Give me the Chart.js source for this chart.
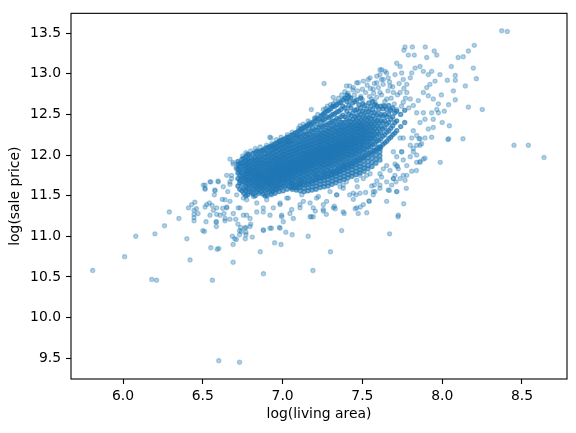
<!DOCTYPE html>
<html>
<head>
<meta charset="utf-8">
<script src="https://cdn.jsdelivr.net/npm/chart.js@4.4.1/dist/chart.umd.min.js"></script>
<style>
  html, body { margin: 0; padding: 0; background: #fff; }
  #wrap { width: 576px; height: 433px; }
</style>
</head>
<body>
<div id="wrap"><canvas id="chart" width="576" height="433"></canvas></div>
<script>
// axis ticks
const xTicks = [6.0, 6.5, 7.0, 7.5, 8.0, 8.5];
const yTicks = [9.5, 10.0, 10.5, 11.0, 11.5, 12.0, 12.5, 13.0, 13.5];

// [log(living area), log(sale price)]
const farPoints = [
  [5.81,10.58],[6.01,10.75],[6.08,11.0],[6.2,11.03],[6.18,10.47],[6.21,10.46],[6.26,11.13],[6.29,11.3],
  [6.35,11.22],[6.4,10.97],[6.42,10.71],[6.56,10.46],[6.6,9.47],[6.73,9.45],[6.55,10.86],[6.6,10.85],
  [6.59,10.84],[6.69,10.68],[6.88,10.54],[6.86,10.81],[7.19,10.58],[7.3,10.81],[7.16,11.0],[7.37,11.07],
  [7.67,11.03]
];

const lowerPoints = [
  [6.5,11.07],[6.51,11.06],[6.52,11.18],[6.585,11.18],[6.585,11.12],[6.685,11.0],[6.69,10.9],[6.71,10.96],
  [6.7,10.97],[6.81,10.99],[6.95,10.92],[6.99,10.9],[6.88,11.07],[7.02,11.05],[7.06,11.02],[6.98,11.11],
  [6.93,11.1],[6.77,11.11],[6.77,11.05],[6.77,11.02],[6.73,11.07],[6.73,11.02],
  [6.41,11.35],[6.43,11.39],[6.45,11.42],[6.445,11.32],[6.445,11.27],[6.445,11.23],[6.445,11.19],[6.46,11.34],
  [6.47,11.28],[6.514,11.63],[6.514,11.58],[6.55,11.67],[6.595,11.68],[6.576,11.56],[6.572,11.51],[6.514,11.36],
  [6.541,11.41],[6.558,11.38],[6.566,11.32],[6.587,11.27],[6.583,11.175],[6.639,11.19],[6.633,11.28],[6.625,11.345],
  [6.65,11.36],[6.622,11.455],[6.639,11.45],[6.656,11.55],[6.67,11.64],[6.67,11.21],[6.706,11.21],[6.72,11.15],
  [6.737,11.11],[6.741,11.06],[6.766,10.97],[6.8,11.15],
  [6.503,11.63],[6.514,11.59],[6.545,11.67],[6.576,11.57],[6.597,11.67],[6.628,11.61],[6.65,11.35],[6.67,11.43],
  [6.691,11.28],[6.733,11.35],[6.754,11.26],[6.775,11.45],[6.796,11.22],[6.838,11.3],[6.879,11.35],[6.921,11.26],
  [6.984,11.39],[6.994,11.24],[7.026,11.47],[7.046,11.28],[7.109,11.35],[7.13,11.43],[7.172,11.24],[7.192,11.35],
  [7.213,11.47],[7.255,11.39],[7.318,11.35],[7.339,11.51],[7.38,11.59],[7.443,11.53],[7.464,11.35],[7.506,11.39],
  [7.568,11.51],[7.61,11.59],[7.694,11.71],[7.715,11.55],[7.725,11.26],[7.652,11.43],[6.524,11.39],[6.545,11.26],
  [6.587,11.35],[6.608,11.26],[6.639,11.22],
  [6.712,11.51],[6.754,11.47],[6.722,11.35],[6.775,11.26],[6.817,11.49],[6.838,11.41],[6.879,11.3],[6.9,11.45],
  [6.932,11.51],[6.942,11.35],[6.984,11.41],[6.994,11.26],[7.004,11.18],[7.036,11.47],[7.057,11.33],[7.067,11.22],
  [7.109,11.39],[7.12,11.51],[7.172,11.41],[7.192,11.24],[7.224,11.49],[7.255,11.33],[7.276,11.43],[7.297,11.55],
  [7.339,11.51],[6.764,11.1],[6.796,11.12],[6.879,11.08],[6.921,11.1],[6.984,11.1],
  [7.759,11.4],[7.723,11.24],[7.527,11.29],[7.474,11.28],[7.487,11.36],[7.455,11.34],[7.38,11.3],[7.386,11.28],
  [7.324,11.37],[7.33,11.34],[7.274,11.27],[7.255,11.31],[7.205,11.31],[7.18,11.24],[7.543,11.43],[7.715,11.55],
  [7.669,11.565],[7.541,11.435],[7.443,11.455],[7.42,11.51],[7.568,11.55],[7.575,11.63],[7.558,11.62],[7.59,11.68],
  [7.468,11.61],[7.46,11.51],[7.485,11.53],[7.52,11.54],[7.506,11.71],[7.527,11.75],[7.548,11.77],[7.485,11.75],
  [7.464,11.69],[7.4,11.67],[7.38,11.63],[7.36,11.61],[7.631,11.83],[7.652,11.87],[7.61,11.77],[7.62,11.73],
  [6.67,11.95],[6.69,11.89],[6.71,11.83],[6.68,11.75],[6.67,11.67],[6.69,11.91],[6.71,11.85],[6.73,11.79],
  [6.65,11.75],[6.68,11.71]
];

const upperPoints = [
  [7.694,11.71],[7.736,11.71],[7.767,11.69],[7.778,11.87],[7.809,11.8],[7.84,11.91],[7.861,11.92],[7.892,11.96],
  [7.819,12.04],[7.84,12.0],[7.8,12.12],[7.861,12.12],[7.855,12.2],[7.809,12.21],[7.756,12.21],[7.736,12.21],
  [7.694,12.04],[7.704,11.89],[7.719,11.86],[7.746,12.04],[7.715,11.98],
  [7.819,12.3],[7.84,12.24],[7.861,12.2],[7.892,12.21],[7.871,12.14],[7.84,12.12],[7.819,12.08],[7.882,11.95],
  [7.861,11.91],[7.8,11.98],[7.746,12.04],[7.756,11.94],[7.715,11.87],[7.725,11.83],[7.673,11.81],[7.704,11.75],
  [7.756,11.75],[7.652,11.67],[7.71,11.67],[7.683,11.63],[7.61,11.63],[7.579,11.55],[7.662,11.57],[7.778,11.75],
  [7.861,13.09],[7.882,13.03],[7.913,12.99],[7.934,13.03],[7.955,12.91],[7.923,12.87],[7.903,12.83],[7.882,12.77],
  [7.913,12.73],[7.944,12.69],[7.976,12.63],[7.966,12.56],[7.934,12.52],[7.944,12.44],[7.882,12.52],[7.892,12.44],
  [7.861,12.4],[7.84,12.52],[7.819,12.61],[7.85,12.67],[7.986,12.99],
  [7.61,13.05],[7.642,13.03],[7.631,12.93],[7.59,12.89],[7.662,12.95],[7.704,12.99],[7.715,13.13],[7.736,13.09],
  [7.746,13.01],[7.756,12.93],[7.778,12.87],[7.8,12.95],[7.809,13.01],[7.83,13.07],[7.673,12.85],[7.694,12.77],
  [7.61,12.77],[7.568,12.81],[7.652,12.69],[7.736,12.77],[7.778,12.77],[7.8,12.69],[7.756,12.65],[7.715,12.56],
  [7.673,12.56],[7.631,12.61],[7.59,12.61],[7.558,12.69],
  [7.26,12.88],[7.18,12.56],[7.317,12.71],[7.4,12.85],[7.443,12.83],[7.474,12.89],[7.537,12.93],[7.61,12.99],
  [7.42,12.67],[6.927,12.21],[7.109,12.36],
  [6.932,12.14],[6.963,12.1],[7.026,12.14],[7.046,12.16],[7.12,12.32],[7.151,12.36],[7.172,12.4],[7.203,12.46],
  [7.255,12.56],[7.308,12.59],[7.318,12.63],[7.4,12.69],[7.42,12.85],[7.464,12.89],[7.506,12.91],[7.548,12.95],
  [7.59,12.97],[7.621,13.05],[7.652,13.01],
  [6.92,12.22],[6.9,12.12],[6.94,12.1],[6.98,12.16],[6.88,12.06],[7.09,12.24],[7.04,12.18],
  [7.913,12.32],[7.944,12.34],[7.976,12.52],[7.934,12.22],[7.988,11.91],[7.838,11.81],[7.775,11.59],
  [7.45,12.74],[7.47,12.79],[7.49,12.72],[7.5,12.81],[7.52,12.77],[7.53,12.86],[7.545,12.72],[7.55,12.82],
  [7.57,12.76],[7.575,12.88],[7.59,12.71],[7.6,12.83],[7.62,12.74],[7.63,12.87],[7.64,12.66],[7.66,12.79],
  [7.67,12.9],[7.68,12.7],[7.69,12.84],[7.7,12.63],[7.72,12.74],[7.73,12.88],[7.745,12.6],[7.76,12.82],
  [7.77,12.7],[7.79,12.58],[7.5,12.68],[7.58,12.65],[7.62,12.93],
  [7.1,12.33],[7.13,12.38],[7.16,12.42],[7.2,12.45],[7.22,12.5],[7.25,12.49],[7.27,12.57],[7.3,12.62],
  [7.33,12.66],[7.35,12.7],[7.37,12.74],[7.39,12.78],[7.41,12.76],[7.44,12.8],[7.28,12.6],[7.06,12.28],
  [7.03,12.25],[6.99,12.22],[6.96,12.19],[6.86,12.1],[6.83,12.08],[6.8,12.05],[6.77,12.03],[6.75,11.99]
];

const highEnd = [
  [8.373,13.53],[8.408,13.52],[8.201,13.35],[8.164,13.28],[8.132,13.21],[8.1,13.2],[8.057,13.09],[8.195,13.07],
  [8.214,12.94],[8.082,12.98],[8.082,12.92],[8.032,12.92],[8.145,12.85],[8.07,12.79],[7.995,12.74],[8.082,12.68],
  [8.04,12.62],[8.164,12.59],[8.251,12.56],[8.013,12.54],[8.0,12.4],[8.045,12.36],[8.04,12.2],[8.036,12.19],
  [8.13,12.2],[8.45,12.12],[8.54,12.12],[8.638,11.97],[7.767,13.33],[7.813,13.33],[7.894,13.33],[7.95,13.28],
  [7.966,13.23],[7.788,13.23],[7.825,13.23],[7.903,13.2],[7.76,13.29]
];

// dense middle of the cloud: [log(living area), [log(sale price) ...]]
const coreColumns = [
  [6.72, [11.62,11.71,11.78,11.83,11.88,11.92]],
  [6.745, [11.56,11.64,11.70,11.74,11.79,11.85,11.9,11.95]],
  [6.77, [11.5,11.56,11.61,11.66,11.7,11.73,11.77,11.8,11.84,11.88,11.93,11.98]],
  [6.79, [11.55,11.62,11.68,11.71,11.76,11.8,11.83,11.87,11.93,12.0]],
  [6.815, [11.52,11.58,11.63,11.67,11.71,11.74,11.78,11.81,11.85,11.9,11.95,12.02]],
  [6.84, [11.55,11.6,11.64,11.68,11.72,11.75,11.78,11.82,11.86,11.9,11.94,11.99,12.05]],
  [6.865, [11.55,11.6,11.63,11.67,11.7,11.73,11.76,11.79,11.83,11.87,11.91,11.95,12.0,12.05]],
  [6.89, [11.5,11.56,11.61,11.65,11.68,11.71,11.74,11.77,11.8,11.84,11.88,11.92,11.97,12.02,12.08]],
  [6.915, [11.55,11.6,11.64,11.67,11.7,11.73,11.76,11.79,11.82,11.86,11.9,11.94,11.99,12.04,12.1]],
  [6.94, [11.55,11.59,11.63,11.67,11.7,11.73,11.76,11.79,11.82,11.85,11.89,11.93,11.97,12.02,12.07,12.12]],
  [6.965, [11.58,11.62,11.66,11.7,11.73,11.76,11.79,11.82,11.85,11.88,11.92,11.96,12.0,12.05,12.1,12.15]],
  [6.99, [11.6,11.65,11.69,11.72,11.75,11.78,11.81,11.84,11.87,11.9,11.94,11.98,12.03,12.08,12.13,12.18]],
  [7.015, [11.62,11.67,11.71,11.74,11.77,11.8,11.83,11.86,11.89,11.93,11.97,12.01,12.05,12.1,12.15,12.2]],
  [7.04, [11.62,11.68,11.72,11.76,11.79,11.82,11.85,11.88,11.91,11.95,11.99,12.03,12.07,12.12,12.17,12.22]],
  [7.065, [11.65,11.7,11.74,11.78,11.81,11.84,11.87,11.9,11.93,11.97,12.01,12.05,12.09,12.14,12.19,12.25]],
  [7.09, [11.65,11.71,11.76,11.8,11.83,11.86,11.89,11.92,11.95,11.99,12.03,12.07,12.11,12.16,12.22,12.28]],
  [7.115, [11.68,11.73,11.78,11.82,11.85,11.88,11.91,11.94,11.97,12.0,12.04,12.08,12.12,12.17,12.22,12.27,12.32]],
  [7.14, [11.7,11.75,11.8,11.84,11.87,11.9,11.93,11.96,11.99,12.02,12.06,12.1,12.14,12.19,12.24,12.3,12.35]],
  [7.165, [11.72,11.77,11.82,11.86,11.89,11.92,11.95,11.98,12.01,12.04,12.08,12.12,12.16,12.21,12.26,12.32,12.38]],
  [7.19, [11.72,11.78,11.83,11.87,11.9,11.93,11.96,11.99,12.02,12.05,12.09,12.13,12.18,12.23,12.28,12.34,12.4]],
  [7.215, [11.75,11.8,11.85,11.89,11.92,11.95,11.98,12.01,12.04,12.07,12.11,12.15,12.2,12.25,12.31,12.38,12.45]],
  [7.24, [11.75,11.81,11.86,11.9,11.93,11.96,11.99,12.02,12.05,12.08,12.12,12.16,12.2,12.24,12.29,12.35,12.41,12.48]],
  [7.265, [11.78,11.84,11.88,11.92,11.95,11.98,12.01,12.04,12.07,12.1,12.14,12.18,12.22,12.26,12.31,12.37,12.44,12.52]],
  [7.29, [11.8,11.86,11.9,11.94,11.97,12.0,12.03,12.06,12.09,12.12,12.16,12.2,12.24,12.28,12.33,12.39,12.46,12.55]],
  [7.315, [11.8,11.87,11.92,11.96,11.99,12.02,12.05,12.08,12.11,12.15,12.19,12.23,12.27,12.31,12.36,12.42,12.5,12.6]],
  [7.34, [11.82,11.88,11.93,11.97,12.01,12.04,12.07,12.1,12.13,12.17,12.21,12.25,12.29,12.33,12.38,12.45,12.53,12.62]],
  [7.365, [11.85,11.91,11.96,12.0,12.03,12.06,12.09,12.12,12.15,12.19,12.23,12.27,12.31,12.35,12.4,12.47,12.56,12.65]],
  [7.39, [11.88,11.94,11.99,12.03,12.06,12.09,12.12,12.15,12.19,12.23,12.27,12.31,12.35,12.4,12.47,12.58,12.7]],
  [7.415, [11.9,11.96,12.01,12.05,12.08,12.11,12.14,12.17,12.21,12.25,12.29,12.33,12.37,12.42,12.5,12.61,12.72]],
  [7.44, [11.92,11.99,12.04,12.08,12.12,12.15,12.18,12.22,12.26,12.3,12.34,12.38,12.44,12.52,12.64]],
  [7.465, [11.95,12.02,12.07,12.11,12.15,12.18,12.21,12.25,12.29,12.33,12.37,12.42,12.48,12.56,12.68]],
  [7.49, [11.98,12.05,12.1,12.14,12.18,12.22,12.26,12.3,12.34,12.38,12.43,12.5,12.58,12.7]],
  [7.515, [12.0,12.07,12.13,12.18,12.22,12.26,12.3,12.34,12.39,12.45,12.52,12.61]],
  [7.54, [12.02,12.1,12.16,12.21,12.26,12.3,12.35,12.4,12.46,12.54,12.64]],
  [7.565, [12.05,12.13,12.2,12.25,12.3,12.35,12.41,12.48,12.56,12.66]],
  [7.59, [12.08,12.17,12.24,12.3,12.36,12.42,12.5,12.6]],
  [7.615, [12.1,12.2,12.28,12.35,12.42,12.5,12.6]],
  [7.64, [12.15,12.25,12.34,12.42,12.5,12.6]],
  [7.665, [12.2,12.3,12.4,12.5,12.61]],
  [7.69, [12.25,12.36,12.47,12.58]],
  [7.715, [12.3,12.42,12.54]],
  [7.74, [12.35,12.5]],
  [7.765, [12.4,12.55]]
];

// second pass over the dense middle, between the columns above
const coreColumnsB = [
  [6.732, [11.58,11.66,11.69,11.75,11.81,11.86,11.9]],
  [6.757, [11.53,11.59,11.67,11.72,11.76,11.82,11.87,11.91,11.96]],
  [6.781, [11.51,11.58,11.64,11.69,11.74,11.78,11.82,11.86,11.9,11.95,12.01]],
  [6.803, [11.54,11.6,11.65,11.69,11.73,11.77,11.8,11.84,11.88,11.92,11.97]],
  [6.828, [11.5,11.57,11.62,11.66,11.7,11.73,11.77,11.8,11.84,11.88,11.93,11.97,12.03]],
  [6.852, [11.53,11.58,11.62,11.66,11.69,11.72,11.75,11.78,11.81,11.85,11.89,11.93,11.98,12.04]],
  [6.877, [11.52,11.58,11.62,11.66,11.69,11.72,11.75,11.78,11.82,11.86,11.9,11.94,11.99,12.06]],
  [6.903, [11.5,11.57,11.62,11.66,11.69,11.72,11.75,11.78,11.81,11.85,11.89,11.93,11.98,12.03,12.09]],
  [6.928, [11.52,11.57,11.62,11.65,11.68,11.71,11.74,11.78,11.81,11.84,11.88,11.92,11.96,12.01,12.06,12.11]],
  [6.953, [11.53,11.58,11.62,11.65,11.69,11.72,11.75,11.78,11.81,11.84,11.87,11.91,11.95,11.99,12.04,12.09,12.14]],
  [6.978, [11.55,11.6,11.64,11.68,11.71,11.74,11.77,11.8,11.83,11.86,11.9,11.93,11.97,12.02,12.07,12.12,12.17]],
  [7.003, [11.56,11.62,11.66,11.7,11.73,11.76,11.79,11.82,11.85,11.88,11.92,11.96,12.0,12.04,12.09,12.14,12.19]],
  [7.028, [11.58,11.64,11.68,11.72,11.75,11.78,11.81,11.84,11.87,11.91,11.94,11.98,12.02,12.07,12.12,12.17,12.22]],
  [7.053, [11.6,11.66,11.7,11.74,11.77,11.8,11.83,11.86,11.89,11.92,11.96,12.0,12.04,12.08,12.13,12.18,12.24]],
  [7.078, [11.6,11.67,11.72,11.76,11.79,11.82,11.85,11.88,11.91,11.94,11.98,12.02,12.06,12.1,12.15,12.21,12.27]],
  [7.103, [11.62,11.69,11.74,11.78,11.81,11.84,11.87,11.9,11.93,11.96,12.0,12.04,12.08,12.12,12.17,12.23,12.3]],
  [7.128, [11.64,11.71,11.76,11.8,11.83,11.86,11.89,11.92,11.95,11.98,12.02,12.06,12.1,12.14,12.19,12.25,12.33]],
  [7.153, [11.66,11.73,11.78,11.82,11.85,11.88,11.91,11.94,11.97,12.0,12.03,12.07,12.11,12.15,12.2,12.26,12.36]],
  [7.178, [11.67,11.74,11.79,11.84,11.87,11.9,11.93,11.96,11.99,12.02,12.05,12.09,12.13,12.17,12.22,12.29,12.38]],
  [7.203, [11.69,11.76,11.81,11.85,11.89,11.92,11.95,11.98,12.01,12.04,12.07,12.11,12.15,12.19,12.24,12.31,12.42]],
  [7.228, [11.71,11.77,11.82,11.87,11.91,11.94,11.97,12.0,12.03,12.06,12.09,12.13,12.17,12.22,12.27,12.34,12.44]],
  [7.253, [11.72,11.79,11.84,11.88,11.92,11.95,11.98,12.01,12.04,12.07,12.1,12.14,12.18,12.23,12.28,12.35,12.43,12.5]],
  [7.278, [11.74,11.81,11.86,11.9,11.94,11.97,12.0,12.03,12.06,12.09,12.13,12.17,12.21,12.25,12.3,12.37,12.47,12.54]],
  [7.303, [11.75,11.82,11.88,11.92,11.96,11.99,12.02,12.05,12.08,12.11,12.14,12.18,12.22,12.27,12.33,12.4,12.48,12.57]],
  [7.328, [11.77,11.84,11.9,11.94,11.98,12.01,12.04,12.07,12.1,12.13,12.16,12.2,12.24,12.29,12.35,12.42,12.51,12.6]],
  [7.353, [11.79,11.86,11.92,11.96,12.0,12.03,12.06,12.09,12.12,12.15,12.18,12.22,12.26,12.31,12.37,12.44,12.54,12.64]],
  [7.378, [11.82,11.88,11.94,11.98,12.02,12.05,12.08,12.11,12.14,12.17,12.21,12.25,12.29,12.34,12.4,12.49,12.6,12.68]],
  [7.403, [11.84,11.91,11.97,12.01,12.05,12.08,12.11,12.14,12.17,12.2,12.24,12.28,12.32,12.37,12.44,12.54,12.66,12.74]],
  [7.428, [11.87,11.94,12.0,12.04,12.08,12.11,12.14,12.17,12.2,12.23,12.27,12.31,12.36,12.41,12.48,12.58,12.7]],
  [7.453, [11.9,11.97,12.02,12.06,12.1,12.14,12.17,12.2,12.24,12.28,12.32,12.36,12.41,12.47,12.55,12.66]],
  [7.478, [11.93,12.0,12.05,12.09,12.13,12.17,12.2,12.24,12.28,12.32,12.36,12.4,12.46,12.53,12.62]],
  [7.503, [11.96,12.03,12.08,12.12,12.16,12.2,12.24,12.28,12.32,12.36,12.41,12.47,12.54,12.63]],
  [7.528, [12.0,12.06,12.11,12.16,12.2,12.24,12.28,12.33,12.38,12.43,12.49,12.57]],
  [7.553, [12.03,12.1,12.15,12.2,12.24,12.29,12.34,12.39,12.45,12.52,12.6]],
  [7.578, [12.06,12.14,12.2,12.26,12.32,12.38,12.44,12.52,12.62]],
  [7.603, [12.1,12.18,12.26,12.33,12.4,12.47,12.56]],
  [7.628, [12.13,12.23,12.32,12.4,12.48,12.57]],
  [7.653, [12.17,12.28,12.38,12.47,12.56]],
  [7.678, [12.22,12.33,12.44,12.55]],
  [7.703, [12.27,12.4,12.52]]
];

// lower part of the dense middle, right half
const coreLowerFill = [
  [7.06, [11.58,11.61,11.64]],
  [7.085, [11.57,11.6,11.63]],
  [7.11, [11.56,11.6,11.64,11.66]],
  [7.135, [11.55,11.59,11.63,11.67]],
  [7.16, [11.56,11.6,11.64,11.68]],
  [7.185, [11.57,11.61,11.65,11.69]],
  [7.21, [11.58,11.62,11.66,11.7,11.73]],
  [7.235, [11.6,11.64,11.68,11.72]],
  [7.26, [11.61,11.65,11.69,11.73,11.76]],
  [7.285, [11.62,11.66,11.7,11.74,11.77]],
  [7.31, [11.64,11.68,11.72,11.76,11.79]],
  [7.335, [11.66,11.7,11.74,11.78,11.8]],
  [7.36, [11.68,11.72,11.76,11.8,11.83]],
  [7.385, [11.7,11.74,11.78,11.82,11.86]],
  [7.41, [11.72,11.76,11.8,11.84,11.88]],
  [7.435, [11.74,11.78,11.82,11.86,11.9]],
  [7.46, [11.76,11.8,11.84,11.88,11.93]],
  [7.485, [11.78,11.82,11.86,11.9,11.95]],
  [7.51, [11.8,11.84,11.88,11.93,11.97]],
  [7.535, [11.83,11.87,11.92,11.97]],
  [7.56, [11.86,11.91,11.96,12.01]],
  [7.585, [11.9,11.95,12.0,12.05]],
  [7.61, [11.94,11.99,12.04,12.08]]
];

const toXY = pts => pts.map(([x, y]) => ({ x, y }));
const corePoints = [];
[...coreColumns, ...coreColumnsB, ...coreLowerFill].forEach(([x, ys]) => ys.forEach(y => corePoints.push({ x, y })));

const scatterPoints = toXY([...farPoints, ...lowerPoints, ...upperPoints, ...highEnd]);

const lightBlue = 'rgba(31,119,180,0.34)';
const coreBlue = 'rgba(31,119,180,0.64)';

// full box around the plot, like matplotlib spines
const frame = {
  id: 'frame',
  afterDatasetsDraw(chart) {
    const { ctx, chartArea: a } = chart;
    ctx.save();
    ctx.strokeStyle = '#000';
    ctx.lineWidth = 1.1;
    ctx.strokeRect(a.left, a.top, a.right - a.left, a.bottom - a.top);
    ctx.restore();
  }
};

Chart.defaults.font.family = "'DejaVu Sans', sans-serif";
Chart.defaults.font.size = 13.9;
Chart.defaults.color = '#000';

new Chart(document.getElementById('chart'), {
  type: 'scatter',
  data: {
    datasets: [
      {
        data: scatterPoints,
        backgroundColor: lightBlue,
        borderColor: lightBlue,
        borderWidth: 1.2,
        pointRadius: 2.1
      },
      {
        data: corePoints,
        backgroundColor: coreBlue,
        borderColor: coreBlue,
        borderWidth: 1.2,
        pointRadius: 2.1
      }
    ]
  },
  options: {
    responsive: false,
    animation: false,
    events: [],
    layout: { padding: { top: 10, right: 9, left: 0, bottom: 0 } },
    plugins: { legend: { display: false }, tooltip: { enabled: false } },
    scales: {
      x: {
        type: 'linear',
        min: 5.674,
        max: 8.782,
        afterBuildTicks: s => { s.ticks = xTicks.map(v => ({ value: v })); },
        afterFit: s => { s.height = 54; },
        border: { display: false },
        grid: { drawOnChartArea: false, tickLength: 5, color: '#000', tickWidth: 1.1 },
        ticks: { padding: 4, autoSkip: false, maxRotation: 0, callback: v => v.toFixed(1) },
        title: { display: true, text: 'log(living area)', padding: { top: 0, bottom: 10 } }
      },
      y: {
        type: 'linear',
        min: 9.244,
        max: 13.744,
        afterBuildTicks: s => { s.ticks = yTicks.map(v => ({ value: v })); },
        afterFit: s => { s.width = 71; },
        border: { display: false },
        grid: { drawOnChartArea: false, tickLength: 5, color: '#000', tickWidth: 1.1 },
        ticks: { padding: 5, autoSkip: false, callback: v => v.toFixed(1) },
        title: { display: true, text: 'log(sale price)', padding: { top: 7, bottom: 0 } }
      }
    }
  },
  plugins: [frame]
});
</script>
</body>
</html>
